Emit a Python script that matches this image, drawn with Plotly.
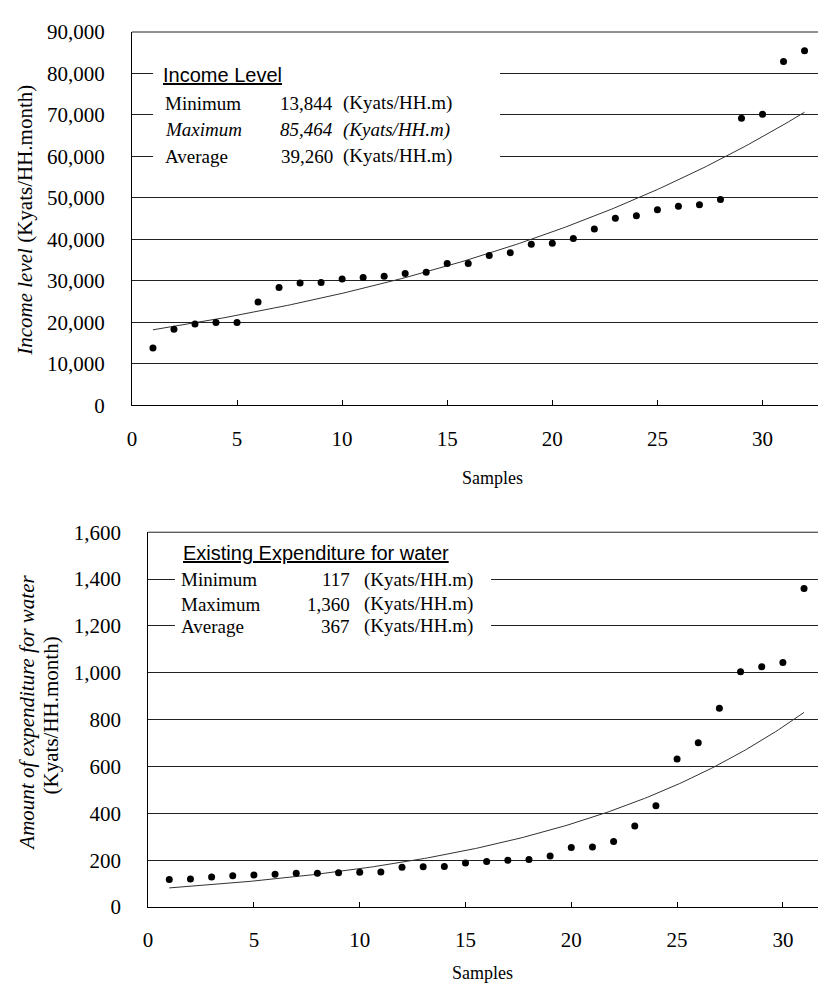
import numpy as np
import plotly.graph_objects as go

W, H = 818, 1001

# ---------------- data ----------------
income_samples = list(range(1, 33))
income_values = [13844, 18350, 19600, 19950, 19950, 24900, 28400, 29500,
                 29600, 30450, 30800, 31150, 31800, 32100, 34200, 34200,
                 36100, 36800, 38850, 39100, 40250, 42500, 45100, 45700,
                 47150, 48000, 48350, 49600, 69200, 70150, 82900, 85464]

water_samples = list(range(1, 32))
water_values = [117, 120, 128, 133, 137, 140, 144, 144, 146, 148, 150,
                170, 172, 173, 188, 194, 200, 203, 218, 254, 256, 280,
                346, 432, 632, 701, 849, 1004, 1026, 1044, 1360]

x_ticks = [0, 5, 10, 15, 20, 25, 30]

income_box_title = "Income Level"
income_rows = [("Minimum", "13,844", "(Kyats/HH.m)", False),
               ("Maximum", "85,464", "(Kyats/HH.m)", True),
               ("Average", "39,260", "(Kyats/HH.m)", False)]

water_box_title = "Existing Expenditure for water"
water_rows = [("Minimum", "117", "(Kyats/HH.m)"),
              ("Maximum", "1,360", "(Kyats/HH.m)"),
              ("Average", "367", "(Kyats/HH.m)")]


def exp_trend(xs, ys, x_from, x_to):
    b, ln_a = np.polyfit(np.array(xs, float), np.log(np.array(ys, float)), 1)
    xx = np.linspace(x_from, x_to, 200)
    return xx, np.exp(ln_a) * np.exp(b * xx)


SERIF = "Liberation Serif, Times New Roman, serif"
SANS = "Liberation Sans, Arial, sans-serif"

# ---------------- geometry (pixels) ----------------
T_L, T_R, T_T, T_B = 127.7, 818.0, 20.5, 403.0
B_L, B_R, B_T, B_B = 144.0, 818.0, 533.0, 917.0
T_XMAX = 32.64
B_XMAX = 31.66


def pxx(px):
    return px / W


def pxy(py):
    return 1 - py / H


fig = go.Figure()

ti_x, ti_y = exp_trend(income_samples, income_values, 1, 32)
wa_x, wa_y = exp_trend(water_samples, water_values, 1, 31)

fig.add_trace(go.Scatter(x=ti_x, y=ti_y, mode="lines",
                         line=dict(color="#333333", width=1),
                         xaxis="x", yaxis="y", hoverinfo="skip"))
fig.add_trace(go.Scatter(x=income_samples, y=income_values, mode="markers",
                         marker=dict(color="black", size=7),
                         xaxis="x", yaxis="y"))
fig.add_trace(go.Scatter(x=wa_x, y=wa_y, mode="lines",
                         line=dict(color="#333333", width=1),
                         xaxis="x2", yaxis="y2", hoverinfo="skip"))
fig.add_trace(go.Scatter(x=water_samples, y=water_values, mode="markers",
                         marker=dict(color="black", size=7),
                         xaxis="x2", yaxis="y2"))

tickfont = dict(family=SERIF, size=21, color="black")

xcommon = dict(tickvals=x_ticks, ticks="inside", ticklen=5, tickcolor="black",
               showline=True, linecolor="black", linewidth=1, showgrid=False,
               zeroline=False, tickfont=tickfont, ticklabelstandoff=14)
ycommon = dict(showgrid=True, gridcolor="#222222", gridwidth=1, showline=True,
               linecolor="black", linewidth=1, zeroline=False, ticks="",
               tickformat=",", tickfont=tickfont, ticklabelstandoff=22)

fig.update_layout(
    width=W, height=H, margin=dict(l=0, r=0, t=0, b=0),
    paper_bgcolor="white", plot_bgcolor="white", showlegend=False,
    xaxis=dict(domain=[pxx(T_L), pxx(T_R)], range=[0, T_XMAX], anchor="y", **xcommon),
    yaxis=dict(domain=[pxy(T_B), pxy(T_T)], range=[0, 90000], dtick=10000, anchor="x", **ycommon),
    xaxis2=dict(domain=[pxx(B_L), pxx(B_R)], range=[0, B_XMAX], anchor="y2", **xcommon),
    yaxis2=dict(domain=[pxy(B_B), pxy(B_T)], range=[0, 1600], dtick=200, anchor="x2", **ycommon),
)


def top_dx(px):
    return (px - T_L) / (T_R - T_L) * T_XMAX


def top_dy(py):
    return (T_B - py) / (T_B - T_T) * 90000


def bot_dx(px):
    return (px - B_L) / (B_R - B_L) * B_XMAX


def bot_dy(py):
    return (B_B - py) / (B_B - B_T) * 1600


# top border lines of both plot areas
fig.add_shape(type="line", xref="x domain", yref="y domain", x0=0, x1=1, y0=1, y1=1,
              line=dict(color="#222222", width=1), layer="below")
fig.add_shape(type="line", xref="x2 domain", yref="y2 domain", x0=0, x1=1, y0=1, y1=1,
              line=dict(color="#222222", width=1), layer="below")

# white boxes behind the stats text (above gridlines, below traces)
fig.add_shape(type="rect", xref="x", yref="y", layer="between",
              x0=top_dx(149), x1=top_dx(498), y0=top_dy(166), y1=top_dy(30),
              fillcolor="white", line=dict(width=0))
fig.add_shape(type="rect", xref="x2", yref="y2", layer="between",
              x0=bot_dx(171), x1=bot_dx(489), y0=bot_dy(652), y1=bot_dy(541),
              fillcolor="white", line=dict(width=0))

anns = []


def ann(text, px, py, xanchor="left", family=SERIF, size=19, angle=0):
    anns.append(dict(text=text, x=pxx(px), y=pxy(py), xref="paper", yref="paper",
                     xanchor=xanchor, yanchor="middle", showarrow=False,
                     textangle=angle, font=dict(family=family, size=size, color="black")))


# top stats box
ann("<u>" + income_box_title + "</u>", 157, 65, family=SANS, size=20)
for i, (lab, val, unit, ital) in enumerate(income_rows):
    yy = [93.3, 120.7, 147.7][i]
    f = (lambda s: "<i>" + s + "</i>") if ital else (lambda s: s)
    ann(f(lab), 159, yy)
    ann(f(val), 332, yy, xanchor="right")
    ann(f(unit), 338, yy)

# bottom stats box
ann("<u>" + water_box_title + "</u>", 177, 554, family=SANS, size=20)
for i, (lab, val, unit) in enumerate(water_rows):
    yy = [581.7, 606.7, 629.3][i]
    ann(lab, 175, yy)
    ann(val, 349, yy, xanchor="right")
    ann(unit, 359, yy)

# axis titles
ann("Samples", 490, 477, xanchor="center", size=18)
ann("Samples", 480, 985, xanchor="center", size=18)
ann("<i>Income level</i> (Kyats/HH.month)", 20, 213, xanchor="center", size=21, angle=-90)
ann("<i>Amount of expenditure for water</i>", 22, 718, xanchor="center", size=21, angle=-90)
ann("(Kyats/HH.month)", 46, 721, xanchor="center", size=21, angle=-90)

fig.update_layout(annotations=anns)

fig.write_html("out.html", config={"displayModeBar": False},
               post_script="document.body.style.margin='0';")
